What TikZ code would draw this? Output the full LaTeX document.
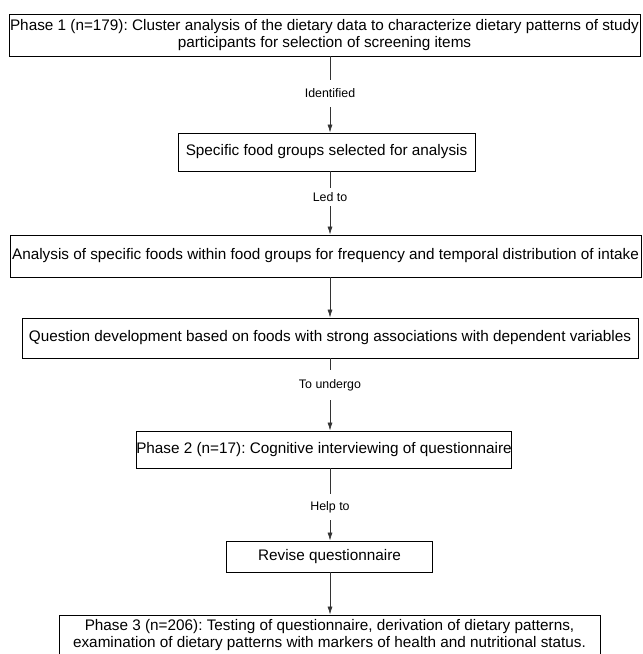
\documentclass[tikz,border=0pt]{standalone}
\usepackage{fontspec}
\setmainfont{Liberation Sans}
\usetikzlibrary{arrows.meta}
\frenchspacing
\begin{document}
\begin{tikzpicture}[x=1pt,y=1pt,
  box/.style={draw=black, line width=0.9pt, inner sep=0pt, align=center, font=\fontsize{15.3}{17}\selectfont},
  lbl/.style={fill=white, inner sep=0pt, font=\fontsize{12.4}{14}\selectfont},
  conn/.style={draw=black!80, line width=0.7pt},
  arr/.style={conn, -{Latex[length=8pt,width=5pt]}}]
\useasboundingbox (0,0) rectangle (643,-654);
\coordinate (ax) at (330,0);
\node[box, minimum width=631pt, minimum height=42pt] (b1) at (324.5,-35)
  {Phase 1 (n=179): Cluster analysis of the dietary data to characterize dietary patterns of study\\participants for selection of screening items};
\node[box, minimum width=297pt, minimum height=38pt] (b2) at (326.5,-152)
  {Specific food groups selected for analysis};
\node[box, minimum width=631pt, minimum height=42pt] (b3) at (325.5,-256)
  {Analysis of specific foods within food groups for frequency and temporal distribution of intake};
\node[box, minimum width=616pt, minimum height=40pt] (b4) at (330,-338)
  {Question development based on foods with strong associations with dependent variables};
\node[box, minimum width=372pt, minimum height=37pt] (b5) at (324,-449.5)
  {Phase 2 (n=17): Cognitive interviewing of questionnaire};
\node[box, minimum width=206pt, minimum height=31pt] (b6) at (329.5,-556.5)
  {Revise questionnaire};
\node[box, minimum width=541pt, minimum height=40pt] (b7) at (329.5,-635)
  {Phase 3 (n=206): Testing of questionnaire, derivation of dietary patterns,\\examination of dietary patterns with markers of health and nutritional status.};
\draw[arr] (b1.south -| ax) -- node[lbl, pos=0.487, minimum height=27pt] (l1) {Identified} (b2.north -| ax);
\draw[arr] (b2.south -| ax) -- node[lbl, pos=0.406, minimum height=18pt] (l2) {Led to} (b3.north -| ax);
\draw[arr] (b3.south -| ax) -- (b4.north -| ax);
\draw[arr] (b4.south -| ax) -- node[lbl, pos=0.37, minimum height=30pt] (l3) {To undergo} (b5.north -| ax);
\draw[arr] (b5.south -| ax) -- node[lbl, pos=0.534, minimum height=26pt] (l4) {Help to} (b6.north -| ax);
\draw[arr] (b6.south -| ax) -- (b7.north -| ax);
\end{tikzpicture}
\end{document}
